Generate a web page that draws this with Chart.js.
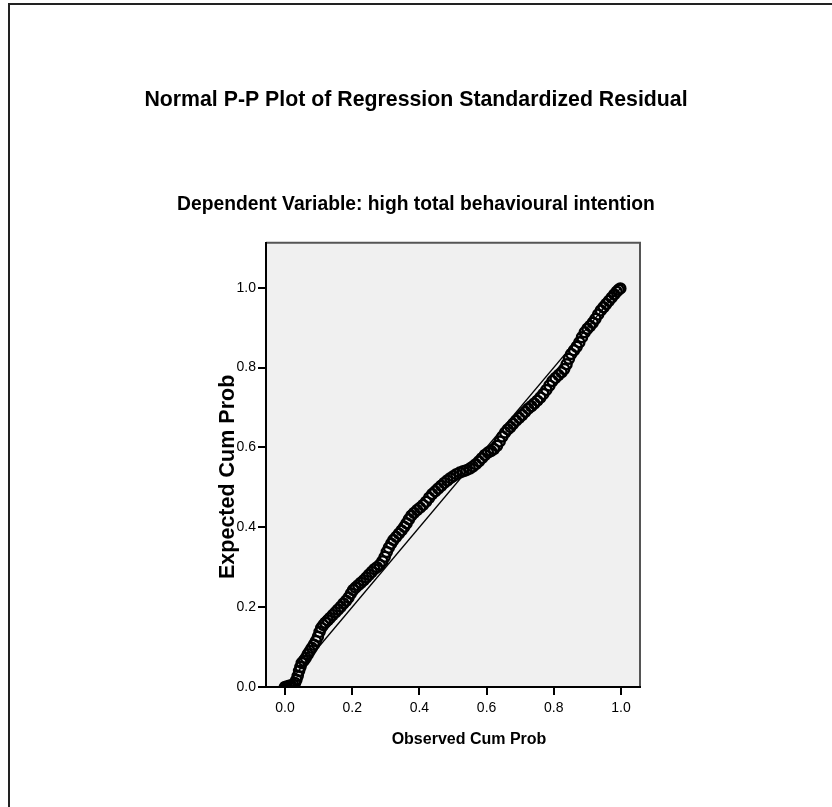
<!DOCTYPE html>
<html>
<head>
<meta charset="utf-8">
<title>Normal P-P Plot</title>
<script src="https://cdn.jsdelivr.net/npm/chart.js@4.4.1/dist/chart.umd.min.js"></script>
<style>
  html, body { margin: 0; padding: 0; background: #fff; }
  #wrap { position: relative; width: 832px; height: 807px; overflow: hidden; }
  #frame {
    position: absolute; left: 8px; top: 3px; width: 900px; height: 900px;
    border-left: 2px solid #222; border-top: 2px solid #222;
  }
  #ppPlot { position: absolute; left: 0; top: 0; }
</style>
</head>
<body>
<div id="wrap">
  <div id="frame"></div>
  <canvas id="ppPlot" width="832" height="807"></canvas>
</div>

<script>
/* =======================
   DADOS
======================= */
const obsCumProb = [
  0.000, 0.006, 0.012, 0.018, 0.024, 0.030, 0.034, 0.038, 0.042, 0.046,
  0.050, 0.056, 0.062, 0.068, 0.074, 0.080, 0.086, 0.092, 0.098, 0.103,
  0.108, 0.114, 0.120, 0.127, 0.134, 0.142, 0.150, 0.158, 0.166, 0.174,
  0.182, 0.189, 0.196, 0.203, 0.210, 0.218, 0.226, 0.234, 0.242, 0.250,
  0.258, 0.266, 0.274, 0.282, 0.290, 0.297, 0.303, 0.309, 0.316, 0.323,
  0.331, 0.339, 0.347, 0.355, 0.362, 0.369, 0.376, 0.384, 0.393, 0.402,
  0.411, 0.420, 0.429, 0.438, 0.447, 0.456, 0.465, 0.474, 0.483, 0.492,
  0.501, 0.510, 0.520, 0.530, 0.540, 0.550, 0.559, 0.568, 0.577, 0.586,
  0.595, 0.604, 0.613, 0.622, 0.631, 0.639, 0.647, 0.655, 0.663, 0.671,
  0.679, 0.688, 0.697, 0.706, 0.715, 0.724, 0.733, 0.742, 0.751, 0.760,
  0.769, 0.778, 0.787, 0.796, 0.805, 0.814, 0.823, 0.831, 0.838, 0.845,
  0.852, 0.860, 0.868, 0.876, 0.884, 0.892, 0.900, 0.908, 0.916, 0.924,
  0.932, 0.940, 0.948, 0.956, 0.964, 0.972, 0.980, 0.987, 0.993, 0.998
];

const expCumProb = [
  0.000, 0.001, 0.003, 0.004, 0.006, 0.010, 0.018, 0.028, 0.040, 0.050,
  0.060, 0.066, 0.073, 0.082, 0.090, 0.098, 0.106, 0.115, 0.126, 0.138,
  0.148, 0.155, 0.161, 0.167, 0.173, 0.180, 0.187, 0.194, 0.201, 0.209,
  0.216, 0.224, 0.234, 0.243, 0.249, 0.255, 0.261, 0.267, 0.274, 0.281,
  0.288, 0.295, 0.300, 0.306, 0.315, 0.326, 0.338, 0.349, 0.359, 0.368,
  0.376, 0.384, 0.392, 0.401, 0.410, 0.420, 0.429, 0.436, 0.443, 0.449,
  0.456, 0.464, 0.474, 0.483, 0.490, 0.497, 0.504, 0.511, 0.517, 0.523,
  0.528, 0.533, 0.537, 0.540, 0.543, 0.547, 0.552, 0.558, 0.565, 0.573,
  0.581, 0.587, 0.591, 0.596, 0.604, 0.615, 0.627, 0.637, 0.645, 0.651,
  0.659, 0.667, 0.674, 0.681, 0.689, 0.697, 0.703, 0.710, 0.717, 0.725,
  0.734, 0.744, 0.755, 0.766, 0.774, 0.781, 0.788, 0.796, 0.808, 0.822,
  0.834, 0.843, 0.852, 0.863, 0.876, 0.888, 0.897, 0.904, 0.912, 0.922,
  0.933, 0.943, 0.951, 0.959, 0.967, 0.975, 0.983, 0.990, 0.995, 0.998
];

// linha de referência (diagonal)
const refLineX = [0, 1];
const refLineY = [0, 1];

const xTickValues = [0.0, 0.2, 0.4, 0.6, 0.8, 1.0];
const yTickValues = [0.0, 0.2, 0.4, 0.6, 0.8, 1.0];

const xAxisTitle = "Observed Cum Prob";
const yAxisTitle = "Expected Cum Prob";

const FONT = "'Liberation Sans', Arial, Helvetica, sans-serif";

/* =======================
   FUNDO CINZA + BORDA
======================= */
const plotFrame = {
  id: "plotFrame",
  beforeDraw(chart) {
    const { ctx, chartArea: a } = chart;
    ctx.save();
    ctx.fillStyle = "#f0f0f0";
    ctx.fillRect(a.left, a.top, a.right - a.left, a.bottom - a.top);
    ctx.strokeStyle = "#555";
    ctx.lineWidth = 2;
    ctx.beginPath();
    ctx.moveTo(a.left, a.top);
    ctx.lineTo(a.right, a.top);
    ctx.lineTo(a.right, a.bottom);
    ctx.stroke();
    ctx.restore();
  }
};

/* =======================
   TÍTULOS DOS EIXOS
======================= */
const axisTitles = {
  id: "axisTitles",
  afterDraw(chart) {
    const { ctx, chartArea: a } = chart;
    ctx.save();
    ctx.fillStyle = "#000";
    ctx.textAlign = "center";
    ctx.textBaseline = "middle";

    ctx.font = "bold 16px " + FONT;
    ctx.fillText(xAxisTitle, (a.left + a.right) / 2 + 16, a.bottom + 53);

    ctx.translate(a.left - 38, (a.top + a.bottom) / 2 + 12);
    ctx.rotate(-Math.PI / 2);
    ctx.font = "bold 21.5px " + FONT;
    ctx.fillText(yAxisTitle, 0, 0);
    ctx.restore();
  }
};

/* =======================
   GRÁFICO
======================= */
const ctx = document.getElementById("ppPlot");

new Chart(ctx, {
  type: "scatter",
  data: {
    datasets: [
      {
        label: "Residuals",
        data: obsCumProb.map((x, i) => ({ x: x, y: expCumProb[i] })),
        pointRadius: 5,
        pointBorderWidth: 2.5,
        pointBorderColor: "#000",
        pointBackgroundColor: "rgba(0,0,0,0)",
        pointHoverRadius: 5
      },
      {
        label: "Reference",
        type: "line",
        data: refLineX.map((x, i) => ({ x: x, y: refLineY[i] })),
        borderColor: "#000",
        borderWidth: 1.4,
        pointRadius: 0,
        fill: false
      }
    ]
  },
  options: {
    responsive: false,
    animation: false,
    layout: { padding: { left: 0, right: 0, top: 0, bottom: 50 } },
    plugins: {
      legend: { display: false },
      tooltip: { enabled: false },
      title: {
        display: true,
        text: "Normal P-P Plot of Regression Standardized Residual",
        color: "#000",
        font: { family: FONT, size: 21.3, weight: "bold", lineHeight: 1.2 },
        padding: { top: 87, bottom: 0 }
      },
      subtitle: {
        display: true,
        text: "Dependent Variable: high total behavioural intention",
        color: "#000",
        font: { family: FONT, size: 19.3, weight: "bold", lineHeight: 1.2 },
        padding: { top: 81, bottom: 26 }
      }
    },
    scales: {
      x: {
        type: "linear",
        min: -0.0565,
        max: 1.0565,
        afterBuildTicks: s => { s.ticks = xTickValues.map(v => ({ value: v })); },
        afterFit: s => { s.height = 70; },
        border: { color: "#000", width: 2 },
        grid: { drawOnChartArea: false, tickLength: 8, color: "#000", lineWidth: 2 },
        ticks: {
          color: "#000",
          padding: 5,
          font: { family: FONT, size: 14 },
          callback: v => Number(v).toFixed(1)
        }
      },
      y: {
        type: "linear",
        min: 0,
        max: 1.1125,
        afterBuildTicks: s => { s.ticks = yTickValues.map(v => ({ value: v })); },
        afterFit: s => { s.width = 266; },
        border: { color: "#000", width: 2 },
        grid: { drawOnChartArea: false, tickLength: 8, color: "#000", lineWidth: 2 },
        ticks: {
          color: "#000",
          padding: 2,
          font: { family: FONT, size: 14 },
          callback: v => Number(v).toFixed(1)
        }
      },
      // eixo vazio à direita só para reservar a margem
      yRight: {
        type: "linear",
        position: "right",
        afterFit: s => { s.width = 192; },
        border: { display: false },
        grid: { display: false },
        ticks: { display: false }
      }
    }
  },
  plugins: [plotFrame, axisTitles]
});
</script>
</body>
</html>
